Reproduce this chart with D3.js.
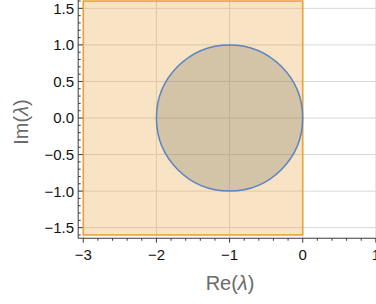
<!DOCTYPE html>
<html><head><meta charset="utf-8">
<script src="https://cdn.jsdelivr.net/npm/d3@7"></script>
<style>body{margin:0;background:#fff}svg{display:block}</style>
</head><body>
<script>
const xTicks = [-3, -2, -1, 0, 1];
const yTicks = [-1.5, -1.0, -0.5, 0.0, 0.5, 1.0, 1.5];
const xTickLabels = ["−3", "−2", "−1", "0", "1"];
const yTickLabels = ["−1.5", "−1.0", "−0.5", "0.0", "0.5", "1.0", "1.5"];
const region = {x0: -3, x1: 0, y0: -1.6, y1: 1.6};
const circle = {cx: -1, cy: 0, r: 1};
const xLabel = ["Re(", "λ", ")"], yLabel = ["Im(", "λ", ")"];

const W = 376, H = 304;
const FONT = "Liberation Sans, Arial, sans-serif";
const svg = d3.select("body").append("svg").attr("width", W).attr("height", H);
const x = d3.scaleLinear().domain([-3, 0]).range([83.3, 302.7]);
const y = d3.scaleLinear().domain([0, 1]).range([118, 44.9]);
const xMin = -3.07, yMin = -1.645;
const axX = x(xMin), axY = y(yMin);

// gridlines
const g = svg.append("g");
g.selectAll(".gx").data(xTicks).join("line")
  .attr("x1", d => x(d)).attr("x2", d => x(d)).attr("y1", 0).attr("y2", axY)
  .attr("stroke", "#d8d8d8").attr("stroke-width", 1);
g.selectAll(".gy").data(yTicks).join("line")
  .attr("x1", axX).attr("x2", W).attr("y1", d => y(d)).attr("y2", d => y(d))
  .attr("stroke", "#d8d8d8").attr("stroke-width", 1);

// region
svg.append("rect")
  .attr("x", x(region.x0)).attr("y", y(region.y1))
  .attr("width", x(region.x1) - x(region.x0)).attr("height", y(region.y0) - y(region.y1))
  .attr("fill", "rgba(232,163,58,0.3)").attr("stroke", "#e8a33a").attr("stroke-width", 1.6);

// circle
svg.append("ellipse")
  .attr("cx", x(circle.cx)).attr("cy", y(circle.cy))
  .attr("rx", x(circle.r) - x(0)).attr("ry", y(0) - y(circle.r))
  .attr("fill", "rgba(125,124,99,0.3)").attr("stroke", "#5a84c4").attr("stroke-width", 1.5);

// axes
const axColor = "#3a3a3a";
svg.append("line").attr("x1", axX).attr("x2", W).attr("y1", axY).attr("y2", axY).attr("stroke", axColor).attr("stroke-width", 1);
svg.append("line").attr("x1", axX).attr("x2", axX).attr("y1", 0).attr("y2", axY).attr("stroke", axColor).attr("stroke-width", 1);

// x ticks
const xMinor = d3.range(-3, 1.21, 0.2).map(v => +v.toFixed(2)).filter(v => !xTicks.includes(v));
svg.selectAll(".xmin").data(xMinor).join("line")
  .attr("x1", d => x(d)).attr("x2", d => x(d)).attr("y1", axY).attr("y2", axY + 2.5)
  .attr("stroke", axColor);
svg.selectAll(".xmaj").data(xTicks).join("line")
  .attr("x1", d => x(d)).attr("x2", d => x(d)).attr("y1", axY).attr("y2", axY + 4.5)
  .attr("stroke", axColor);
svg.selectAll(".xl").data(xTicks).join("text")
  .attr("x", d => x(d)).attr("y", 259.5)
  .attr("text-anchor", "middle").attr("font-family", FONT)
  .attr("font-size", 15).attr("fill", "#111")
  .text((d, i) => xTickLabels[i]);

// y ticks
const yMinor = d3.range(-1.6, 1.61, 0.1).map(v => +v.toFixed(2)).filter(v => !yTicks.includes(v));
svg.selectAll(".ymin").data(yMinor).join("line")
  .attr("x1", axX).attr("x2", axX + 2.5).attr("y1", d => y(d)).attr("y2", d => y(d))
  .attr("stroke", axColor);
svg.selectAll(".ymaj").data(yTicks).join("line")
  .attr("x1", axX).attr("x2", axX + 4.5).attr("y1", d => y(d)).attr("y2", d => y(d))
  .attr("stroke", axColor);
svg.selectAll(".yl").data(yTicks).join("text")
  .attr("x", 74).attr("y", d => y(d) + 5.4)
  .attr("text-anchor", "end").attr("font-family", FONT)
  .attr("font-size", 15).attr("fill", "#111")
  .text((d, i) => yTickLabels[i]);

// axis labels
function label(sel, parts) {
  sel.attr("text-anchor", "middle").attr("font-family", FONT)
    .attr("font-size", 20).attr("fill", "#6b6b6b");
  parts.forEach((p, i) => sel.append("tspan").attr("font-style", i === 1 ? "italic" : null).text(p));
}
label(svg.append("text").attr("x", 230).attr("y", 289.5), xLabel);
label(svg.append("text").attr("transform", "translate(28,122) rotate(-90)"), yLabel);
</script>
</body></html>
